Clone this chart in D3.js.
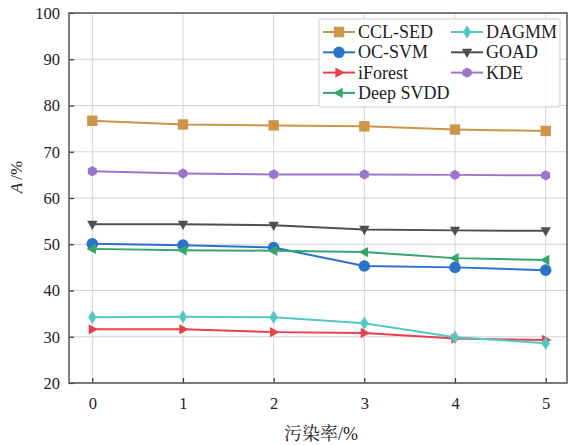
<!DOCTYPE html>
<html>
<head>
  <meta charset="utf-8">
  <title>A vs contamination rate</title>
  <style>
    body { margin: 0; background: #fff; }
    .grid line { stroke: #d4d4d4; stroke-width: 1; }
  </style>
  <script src="https://cdn.jsdelivr.net/npm/d3@7"></script>
</head>
<body>
<script>
// data
var rates = [0, 1, 2, 3, 4, 5];
var yTicks = [20, 30, 40, 50, 60, 70, 80, 90, 100];

var cclSed   = [76.7, 75.9, 75.7, 75.5, 74.8, 74.5];
var ocSvm    = [50.1, 49.8, 49.3, 45.3, 45.0, 44.4];
var iForest  = [31.6, 31.6, 31.0, 30.8, 29.6, 29.3];
var deepSvdd = [49.0, 48.7, 48.6, 48.3, 47.0, 46.6];
var dagmm    = [34.2, 34.3, 34.2, 32.9, 29.9, 28.6];
var goad     = [54.3, 54.3, 54.1, 53.2, 53.0, 52.9];
var kde      = [65.8, 65.3, 65.1, 65.1, 65.0, 64.9];

var names   = ["CCL-SED", "OC-SVM", "iForest", "Deep SVDD", "DAGMM", "GOAD", "KDE"];
var values  = [cclSed, ocSvm, iForest, deepSvdd, dagmm, goad, kde];
var colors  = ["#cc9548", "#2b72c9", "#e8404a", "#35a56e", "#52c9c2", "#4f4f4f", "#9c76c9"];
var markers = ["square", "circle", "right", "left", "diamond", "down", "hexagon"];

var serifFont = "'Liberation Serif', serif";
var cjkFont = "'Liberation Serif', 'Noto Serif CJK SC', serif";

var margin = {top: 13, right: 1, bottom: 62, left: 69},
    width = 568 - margin.left - margin.right,
    height = 445 - margin.top - margin.bottom;

var x = d3.scaleLinear().domain([-0.257, 5.235]).range([0, width]);
var y = d3.scaleLinear().domain([20, 100]).range([height, 0]);

var svg = d3.select("body").append("svg")
    .attr("width", 568)
    .attr("height", 445);
var g = svg.append("g")
    .attr("transform", "translate(" + margin.left + "," + margin.top + ")");

// grid
var grid = g.append("g").attr("class", "grid");
grid.selectAll(".vx").data(rates).enter().append("line")
    .attr("x1", function(d) { return x(d); }).attr("x2", function(d) { return x(d); })
    .attr("y1", 0).attr("y2", height);
grid.selectAll(".hy").data(yTicks).enter().append("line")
    .attr("y1", function(d) { return y(d); }).attr("y2", function(d) { return y(d); })
    .attr("x1", 0).attr("x2", width);

// axes with inward ticks
var xAxis = g.append("g")
    .attr("transform", "translate(0," + height + ")")
    .call(d3.axisBottom(x).tickValues(rates).tickSize(-5).tickPadding(14).tickFormat(d3.format("d")));
var yAxis = g.append("g")
    .call(d3.axisLeft(y).tickValues(yTicks).tickSize(-5).tickPadding(9));
[xAxis, yAxis].forEach(function(a) {
  a.attr("font-family", null).attr("font-size", null);
  a.select(".domain").remove();
  a.selectAll("line").attr("stroke", "#333").attr("stroke-width", 1.2);
  a.selectAll("text")
    .style("font-family", serifFont)
    .style("font-size", "16.5px")
    .attr("fill", "#222");
});

// frame
g.append("rect")
    .attr("width", width).attr("height", height)
    .attr("fill", "none").attr("stroke", "#555").attr("stroke-width", 1.5);

// marker shapes
function markerPath(kind, s) {
  var r = s;
  switch (kind) {
    case "square": return "M" + (-r) + "," + (-r) + "h" + 2 * r + "v" + 2 * r + "h" + (-2 * r) + "Z";
    case "diamond": return "M0," + (-r * 1.2) + "L" + r * 0.75 + ",0L0," + r * 1.2 + "L" + (-r * 0.75) + ",0Z";
    case "right": return "M" + r * 1.1 + ",0L" + (-r * 0.7) + "," + (-r) + "L" + (-r * 0.7) + "," + r + "Z";
    case "left": return "M" + (-r * 1.1) + ",0L" + r * 0.7 + "," + (-r) + "L" + r * 0.7 + "," + r + "Z";
    case "down": return "M0," + r * 1.1 + "L" + (-r) + "," + (-r * 0.7) + "L" + r + "," + (-r * 0.7) + "Z";
    case "hexagon":
      var p = d3.range(6).map(function(i) {
        var a = Math.PI / 3 * i + Math.PI / 6;
        return [r * Math.cos(a), r * Math.sin(a)];
      });
      return "M" + p.join("L") + "Z";
    default: return d3.symbol().type(d3.symbolCircle).size(Math.PI * r * r)();
  }
}
var msize = {square: 5.2, circle: 5.8, right: 5.2, left: 5.2, diamond: 5.6, down: 5.2, hexagon: 5.2};

var line = d3.line()
    .x(function(d, i) { return x(rates[i]); })
    .y(function(d) { return y(d); });

names.forEach(function(name, k) {
  g.append("path")
      .datum(values[k])
      .attr("fill", "none")
      .attr("stroke", colors[k])
      .attr("stroke-width", 2)
      .attr("d", line);
  g.selectAll(".m" + k).data(values[k]).enter().append("path")
      .attr("transform", function(d, i) { return "translate(" + x(rates[i]) + "," + y(d) + ")"; })
      .attr("d", markerPath(markers[k], msize[markers[k]]))
      .attr("fill", colors[k]);
});

// legend
var leg = svg.append("g").attr("transform", "translate(319,19)");
leg.append("rect")
    .attr("width", 241).attr("height", 88).attr("rx", 2)
    .attr("fill", "#fff").attr("fill-opacity", 0.85)
    .attr("stroke", "#cfcfcf");
names.forEach(function(name, k) {
  var col = k < 4 ? 0 : 1, row = k < 4 ? k : k - 4;
  var lx = col === 0 ? 4 : 132, ly = 13 + row * 20.3;
  var item = leg.append("g").attr("transform", "translate(" + lx + "," + ly + ")");
  item.append("line").attr("x1", 0).attr("x2", 32)
      .attr("stroke", colors[k]).attr("stroke-width", 2);
  item.append("path").attr("transform", "translate(16,0)")
      .attr("d", markerPath(markers[k], msize[markers[k]]))
      .attr("fill", colors[k]);
  item.append("text").attr("x", 35).attr("dy", "0.34em")
      .style("font-family", serifFont)
      .style("font-size", "18px")
      .attr("fill", "#222")
      .text(name);
});

// axis titles
svg.append("text")
    .attr("x", 321).attr("y", 440)
    .attr("text-anchor", "middle")
    .style("font-family", cjkFont)
    .style("font-size", "18px")
    .attr("fill", "#222")
    .text("污染率/%");
var yl = svg.append("text")
    .attr("transform", "translate(22,177) rotate(-90)")
    .attr("text-anchor", "middle")
    .style("font-family", serifFont)
    .style("font-size", "17px")
    .attr("fill", "#222");
yl.append("tspan").style("font-style", "italic").text("A");
yl.append("tspan").attr("dx", 3).text("/%");
</script>
</body>
</html>
